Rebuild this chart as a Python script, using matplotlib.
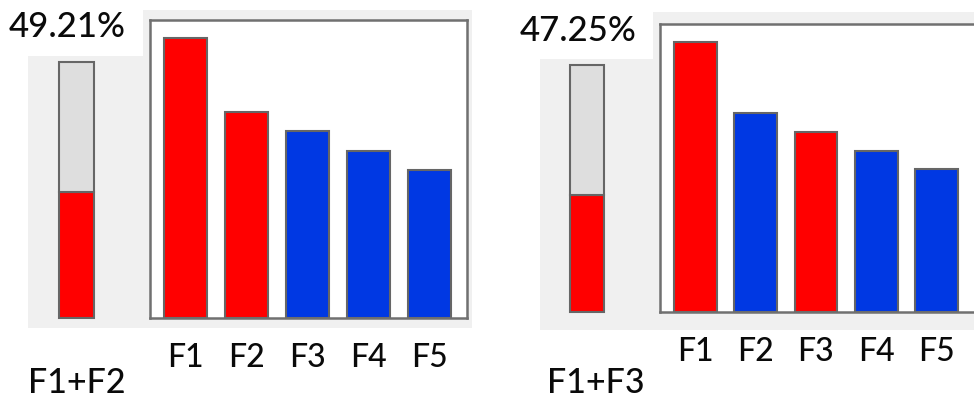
import matplotlib
matplotlib.use("Agg")
import matplotlib.pyplot as plt
from matplotlib.patches import Rectangle

plt.rcParams['font.family'] = ['Lato', 'DejaVu Sans']

# data: share of each factor (percent)
factors = ["F1", "F2", "F3", "F4", "F5"]
shares = [28.35, 20.86, 18.90, 16.90, 14.99]

# two panels: which factors are combined
combo_left = ["F1", "F2"]
combo_right = ["F1", "F3"]

RED = "#ff0000"
BLUE = "#0038e3"
EDGE = "#666666"
BG = "#f0f0f0"
TXT = "#0a0a0a"

W, H = 974, 401
fig = plt.figure(figsize=(W / 100, H / 100), dpi=100)
fig.patch.set_facecolor("white")


def px_axes(x0, y0, x1, y1):
    # pixel box measured from top-left of the picture
    return fig.add_axes([x0 / W, 1 - y1 / H, (x1 - x0) / W, (y1 - y0) / H])


def bg_rect(x0, y0, x1, y1):
    fig.add_artist(Rectangle((x0 / W, 1 - y1 / H), (x1 - x0) / W, (y1 - y0) / H,
                             transform=fig.transFigure, facecolor=BG,
                             edgecolor="none", zorder=0))


def panel(combo, bg, bar_box, frame_box, xlim, ytop, pct_xy, label_xy):
    # light gray L-shaped background
    for r in bg:
        bg_rect(*r)

    share = sum(shares[factors.index(f)] for f in combo)
    total = sum(shares)

    # small stacked bar
    axs = px_axes(*bar_box)
    axs.bar([0], [share], width=1.0, color=RED, edgecolor=EDGE, linewidth=1.5, clip_on=False)
    axs.bar([0], [total - share], bottom=[share], width=1.0, color="#dedede",
            edgecolor=EDGE, linewidth=1.5, clip_on=False)
    axs.set_xlim(-0.5, 0.5)
    axs.set_ylim(0, total)
    axs.axis("off")

    # main bar chart
    ax = px_axes(*frame_box)
    cols = [RED if f in combo else BLUE for f in factors]
    ax.bar(range(len(factors)), shares, width=0.71, color=cols,
           edgecolor=EDGE, linewidth=1.5)
    ax.set_xlim(*xlim)
    ax.set_ylim(0, ytop)
    ax.set_facecolor("white")
    for s in ax.spines.values():
        s.set_color("#707070")
        s.set_linewidth(1.8)
    ax.set_yticks([])
    ax.set_xticks(range(len(factors)))
    ax.set_xticklabels(factors, fontsize=23, color=TXT, fontweight="medium")
    ax.tick_params(axis="x", length=0, pad=18)

    fig.text(pct_xy[0] / W, 1 - pct_xy[1] / H, f"{share:.2f}%",
             fontsize=25, color=TXT, va="baseline", ha="left", fontweight="medium")
    fig.text(label_xy[0] / W, 1 - label_xy[1] / H, "+".join(combo),
             fontsize=24.5, color=TXT, va="baseline", ha="left", fontweight="medium")


panel(combo_left,
      bg=[(28, 56, 472, 328), (143, 10, 472, 56)],
      bar_box=(59, 62, 94, 318),
      frame_box=(150, 20, 467, 318),
      xlim=(-0.58, 4.62), ytop=30.17,
      pct_xy=(9, 37), label_xy=(28, 393))

panel(combo_right,
      bg=[(540, 59, 974, 330), (653, 12, 974, 59)],
      bar_box=(570, 65, 604, 312),
      frame_box=(660, 24, 982, 312),
      xlim=(-0.589, 4.755), ytop=30.25,
      pct_xy=(520, 41), label_xy=(547, 393))

fig.savefig("out.png", dpi=100)
